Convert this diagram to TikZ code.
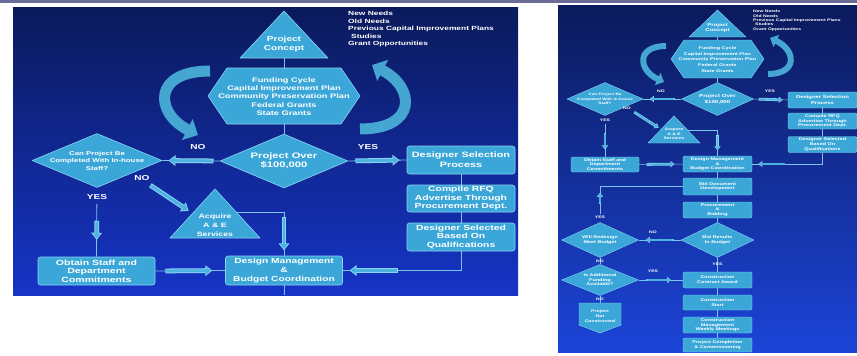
\documentclass[tikz,border=0pt]{standalone}
\usepackage{fontspec}
\setmainfont{Liberation Sans}[FakeStretch=1.4]
\usetikzlibrary{shapes.geometric,arrows.meta,calc}
\definecolor{navy}{HTML}{0B1A5C}
\definecolor{midblue}{HTML}{0F27A0}
\definecolor{royal}{HTML}{1634C6}
\definecolor{royalb}{HTML}{1C44D8}
\definecolor{shpc}{HTML}{3AA7D8}
\definecolor{shpedge}{HTML}{8AD4F4}
\definecolor{fatc}{HTML}{4CB2E0}
\definecolor{conn}{HTML}{7CC4EC}
\definecolor{ribbon}{HTML}{45A6D2}
\definecolor{band}{HTML}{6C6C98}
\begin{document}
\begin{tikzpicture}[x=1pt,y=-1pt,
  fs/.style 2 args={font=\bfseries\fontsize{#1}{#2}\selectfont},
  txt/.style={text=white,align=center,inner sep=0pt},
  shp/.style={fill=shpc,draw=shpedge,line width=0.6pt,line join=round},
  sshp/.style={fill=shpc,draw=shpedge,line width=0.4pt,line join=round},
  box/.style={shp,rectangle,rounded corners=2.5pt,inner sep=0pt},
  sbox/.style={sshp,rectangle,rounded corners=1.5pt,inner sep=0pt},
  dia/.style={shp,diamond,inner sep=0pt},
  sdia/.style={sshp,diamond,inner sep=0pt},
  wire/.style={draw=conn,line width=0.8pt},
  swire/.style={draw=conn,line width=0.5pt},
  fp/.style={sloped,allow upside down},
  fat/.pic={
    \draw[line width=4.8pt,draw=shpedge,-{Triangle[length=7pt,width=10.5pt]}] (-#1/2,0) -- (#1/2,0);
    \draw[line width=2.8pt,draw=fatc,-{Triangle[length=4.8pt,width=7pt]}] (-#1/2+0.9,0) -- (#1/2-1.4,0);
  },
  sfat/.pic={
    \draw[line width=2.8pt,draw=shpedge,-{Triangle[length=4pt,width=6pt]}] (-#1/2,0) -- (#1/2,0);
    \draw[line width=1.6pt,draw=fatc,-{Triangle[length=2.7pt,width=4pt]}] (-#1/2+0.6,0) -- (#1/2-0.8,0);
  },
  lbl/.style={txt,fs={7.2}{8}},
  slbl/.style={txt,fs={3.6}{4.2}},
  rib/.style={draw=ribbon,line cap=butt}
]
\useasboundingbox (0,0) rectangle (857,356);
\fill[white] (0,0) rectangle (857,356);
\fill[band] (0,0) rectangle (857,3);
\shade[top color=navy,middle color=midblue,bottom color=royal] (13,7) rectangle (518,295);
\shade[top color=navy,middle color=royal,bottom color=royalb] (558,5) rectangle (857,352);

% ================= LEFT PANEL =================
\draw[rib,line width=11pt,-{Triangle[length=12pt,width=23pt]}]
  (210,71) .. controls (152,71) and (155,113) .. (198,135);
\draw[rib,line width=11pt,-{Triangle[length=12pt,width=23pt]}]
  (360,129) .. controls (418,129) and (415,87) .. (372,65);

\path[shp] (284,11) -- (328,58) -- (240,58) -- cycle;
\node[txt,fs={7.2}{9.5}] (pc) at (284,44) {Project\\Concept};
\coordinate (pcb) at (284,58);

\path[shp] (208,96) -- (227,68) -- (341,68) -- (360,96) -- (341,124) -- (227,124) -- cycle;
\node[txt,fs={6.6}{8.2}] (fund) at (284,96.5) {Funding Cycle\\Capital Improvement Plan\\Community Preservation Plan\\Federal Grants\\State Grants};
\coordinate (hext) at (284,68);
\coordinate (hexb) at (284,124);

\node[txt,fs={6}{7.6},align=left,anchor=north west] (needs) at (348,11)
  {New Needs\\Old Needs\\Previous Capital Improvement Plans\\\hspace*{3pt}Studies\\Grant Opportunities};

\node[dia,minimum width=128pt,minimum height=54pt,
  label={[txt,fs={8}{9}]center:{Project Over\\\$100,000}}] (d0) at (284,161) {};
\node[dia,minimum width=130pt,minimum height=54pt,
  label={[txt,fs={5.6}{7.5}]center:{Can Project Be\\Completed With In-house\\Staff?}}] (d1) at (97,160.5) {};

\node[box,minimum width=108pt,minimum height=28pt,
  label={[txt,fs={7.8}{9.8}]center:{Designer Selection\\Process}}] (b1) at (461,160) {};
\node[box,minimum width=108pt,minimum height=27pt,
  label={[txt,fs={7.4}{8.5}]center:{Compile RFQ\\Advertise Through\\Procurement Dept.}}] (b2) at (461,198.5) {};
\node[box,minimum width=108pt,minimum height=28pt,
  label={[txt,fs={7.4}{8.5}]center:{Designer Selected\\Based On\\Qualifications}}] (b3) at (461,237) {};

\path[shp] (215,189) -- (260,238) -- (170,238) -- cycle;
\node[txt,fs={6.3}{8.8}] (ae) at (215,225) {Acquire\\A \& E\\Services};
\coordinate (aer) at (236,212);

\node[box,minimum width=117pt,minimum height=29pt,
  label={[txt,fs={7.3}{9}]center:{Design Management\\\&\\Budget Coordination}}] (b4) at (284,270.5) {};
\node[box,minimum width=117pt,minimum height=28pt,
  label={[txt,fs={7.5}{8.5}]center:{Obtain Staff and\\Department\\Commitments}}] (b5) at (96.5,271) {};
\coordinate (lbot) at (284,295);
\coordinate (na1) at (150,185);
\coordinate (na2) at (189,211);

\draw[wire] (pcb) -- (hext);
\draw[wire] (hexb) -- (d0.north);
\draw[wire] (d0.west) -- pic[fp]{fat=45} (d1.east);
\draw[wire] (d0.east) -- pic[fp]{fat=44} (b1.west);
\draw[wire] (b1.south) -- (b2.north);
\draw[wire] (b2.south) -- (b3.north);
\draw[wire] (b3.south) |- pic[pos=0.87,fp]{fat=48} (b4.east);
\draw[wire,shorten <=16pt] (d1.south) -- pic[pos=0.5,fp]{fat=35} (b5.north);
\path (na1) -- pic[fp]{fat=46} (na2);
\draw[wire] (aer) -| pic[pos=0.75,fp]{fat=33} (b4.north);
\draw[wire] (b5.east) -- pic[pos=0.48,fp]{fat=47} (b4.west);
\draw[wire] (b4.south) -- (lbot);

\node[lbl] (lno1) at (198,147) {NO};
\node[lbl] (lyes1) at (368,147) {YES};
\node[lbl] (lyes2) at (97,197) {YES};
\node[lbl] (lno2) at (142,178) {NO};

% ================= RIGHT PANEL =================
\draw[rib,line width=6pt,-{Triangle[length=7pt,width=13pt]}]
  (666,46) .. controls (636,46) and (638,70) .. (664,82);
\draw[rib,line width=6pt,-{Triangle[length=7pt,width=13pt]}]
  (768,74) .. controls (798,74) and (796,50) .. (770,38);

\path[sshp] (717.5,10) -- (746,37) -- (689,37) -- cycle;
\node[txt,fs={4.3}{5.5}] (rpc) at (717.5,28) {Project\\Concept};
\coordinate (rpcb) at (717.5,37);

\path[sshp] (671,59) -- (684,40) -- (751,40) -- (764,59) -- (751,78) -- (684,78) -- cycle;
\node[txt,fs={3.9}{5.8}] (rfund) at (717.5,59.5) {Funding Cycle\\Capital Improvement Plan\\Community Preservation Plan\\Federal Grants\\State Grants};
\coordinate (rhext) at (717.5,40);
\coordinate (rhexb) at (717.5,78);

\node[txt,fs={3.6}{4.3},align=left,anchor=north west] (rneeds) at (753,10)
  {New Needs\\Old Needs\\Previous Capital Improvement Plans\\\hspace*{2pt}Studies\\Grant Opportunities};

\node[sdia,minimum width=72pt,minimum height=33pt,
  label={[txt,fs={4.4}{5.5}]center:{Project Over\\\$100,000}}] (rd0) at (717.5,99) {};
\node[sdia,minimum width=76pt,minimum height=33pt,
  label={[txt,fs={3.3}{4.5}]center:{Can Project Be\\Completed With In-house\\Staff?}}] (rd1) at (605,99) {};

\node[sbox,minimum width=69pt,minimum height=16pt,
  label={[txt,fs={4.2}{5.3}]center:{Designer Selection\\Process}}] (rb1) at (822.5,100) {};
\node[sbox,minimum width=69pt,minimum height=16pt,
  label={[txt,fs={3.9}{4.6}]center:{Compile RFQ\\Advertise Through\\Procurement Dept.}}] (rb2) at (822.5,121) {};
\node[sbox,minimum width=69pt,minimum height=16pt,
  label={[txt,fs={3.9}{4.6}]center:{Designer Selected\\Based On\\Qualifications}}] (rb3) at (822.5,144.5) {};

\path[sshp] (674,116) -- (700,143) -- (648,143) -- cycle;
\node[txt,fs={3.6}{4.6}] (rae) at (674,134) {Acquire\\A \& E\\Services};
\coordinate (raer) at (687.5,130);

\node[sbox,minimum width=69pt,minimum height=16pt,
  label={[txt,fs={3.9}{4.6}]center:{Design Management\\\&\\Budget Coordination}}] (rb4) at (717.5,164) {};
\node[sbox,minimum width=68pt,minimum height=15pt,
  label={[txt,fs={3.9}{4.6}]center:{Obtain Staff and\\Department\\Commitments}}] (rb5) at (605,164.5) {};

\node[sbox,minimum width=69pt,minimum height=17pt,
  label={[txt,fs={3.9}{4.8}]center:{Bid Document\\Development}}] (rb6) at (717.5,186.5) {};
\node[sbox,minimum width=69pt,minimum height=16pt,
  label={[txt,fs={3.9}{4.6}]center:{Procurement\\\&\\Bidding}}] (rb7) at (717.5,210) {};
\node[sdia,minimum width=73pt,minimum height=35pt,
  label={[txt,fs={3.9}{4.8}]center:{Bid Results\\In Budget}}] (rd2) at (717.5,240) {};
\node[sdia,minimum width=77pt,minimum height=35pt,
  label={[txt,fs={3.9}{4.8}]center:{Will Redesign\\Meet Budget}}] (rd3) at (600,240) {};
\node[sdia,minimum width=77pt,minimum height=31pt,
  label={[txt,fs={3.9}{4.6}]center:{Is Additional\\Funding\\Available?}}] (rd4) at (600,280) {};
\path[sshp] (579,303) -- (621,303) -- (621,325) -- (600,333) -- (579,325) -- cycle;
\node[txt,fs={3.7}{4.8}] (rnot) at (600,316) {Project\\Not\\Constructed};
\coordinate (rpt) at (600,303);

\node[sbox,minimum width=69pt,minimum height=16pt,
  label={[txt,fs={3.9}{4.8}]center:{Construction\\Contract Award}}] (rb8) at (717.5,280) {};
\node[sbox,minimum width=69pt,minimum height=15pt,
  label={[txt,fs={3.9}{4.8}]center:{Construction\\Start}}] (rb9) at (717.5,302.5) {};
\node[sbox,minimum width=69pt,minimum height=16pt,
  label={[txt,fs={3.9}{4.6}]center:{Construction\\Management\\Weekly Meetings}}] (rb10) at (717.5,325) {};
\node[sbox,minimum width=69pt,minimum height=14pt,
  label={[txt,fs={3.9}{4.6}]center:{Project Completion\\\& Commissioning}}] (rb11) at (717.5,345) {};

\coordinate (rna1) at (634,112);
\coordinate (rna2) at (659,128);

\draw[swire] (rpcb) -- (rhext);
\draw[swire] (rhexb) -- (rd0.north);
\draw[swire] (rd0.west) -- pic[fp]{sfat=25} (rd1.east);
\draw[swire] (rd0.east) -- pic[fp]{sfat=24} (rb1.west);
\draw[swire] (rb1.south) -- (rb2.north);
\draw[swire] (rb2.south) -- (rb3.north);
\draw[swire] (rb3.south) |- pic[pos=0.86,fp]{sfat=27} (rb4.east);
\draw[swire,shorten <=8pt] (rd1.south) -- pic[pos=0.53,fp]{sfat=24} (rb5.north);
\path (rna1) -- pic[fp]{sfat=29} (rna2);
\draw[swire] (raer) -| pic[pos=0.75,fp]{sfat=15} (rb4.north);
\draw[swire] (rb5.east) -- pic[pos=0.49,fp]{sfat=28} (rb4.west);
\draw[swire] (rb4.south) -- (rb6.north);
\draw[swire] (rb6.south) -- (rb7.north);
\draw[swire] (rb7.south) -- (rd2.north);
\draw[swire] (rd2.south) -- (rb8.north);
\draw[swire] (rb8.south) -- (rb9.north);
\draw[swire] (rb9.south) -- (rb10.north);
\draw[swire] (rb10.south) -- (rb11.north);
\draw[swire] (rd2.west) -- pic[fp]{sfat=28} (rd3.east);
\draw[swire,shorten <=8pt] (rd3.north) |- pic[pos=0.28,fp]{sfat=19} (rb6.west);
\draw[swire] (rd3.south) -- (rd4.north);
\draw[swire] (rd4.east) -- pic[pos=0.45,fp]{sfat=25} (rb8.west);
\draw[swire] (rd4.south) -- (rpt);

\node[slbl] (rno1) at (661,91) {NO};
\node[slbl] (ryes1) at (770,91) {YES};
\node[slbl] (ryes2) at (605,120) {YES};
\node[slbl] (rno2) at (627,108) {NO};
\node[slbl] (ryes3) at (600,217) {YES};
\node[slbl] (rno3) at (653,232) {NO};
\node[slbl] (rno4) at (600,261) {NO};
\node[slbl] (ryes4) at (653,271) {YES};
\node[slbl] (ryes5) at (717.5,264) {YES};
\node[slbl] (rno5) at (600,299.5) {NO};
\end{tikzpicture}
\end{document}
